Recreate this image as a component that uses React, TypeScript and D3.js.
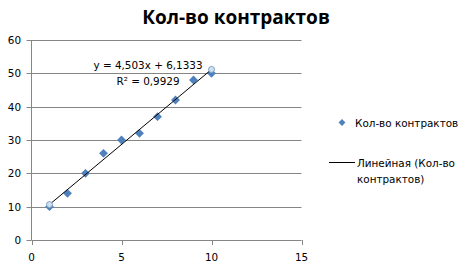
import React from "react";
import * as d3 from "d3";

const xValues = [1, 2, 3, 4, 5, 6, 7, 8, 9, 10];
const yValues = [10, 14, 20, 26, 30, 32, 37, 42, 48, 50];
const xTicks = [0, 5, 10, 15];
const yTicks = [0, 10, 20, 30, 40, 50, 60];
const title = "Кол-во контрактов";
const seriesName = "Кол-во контрактов";
const trendNameLines = ["Линейная (Кол-во", "контрактов)"];
const equation = "y = 4,503x + 6,1333";
const r2Text = "R² = 0,9929";

export default function App() {
  const W = 463, H = 264;
  const x = d3.scaleLinear().domain([0, 15]).range([31.5, 301.5]);
  const y = d3.scaleLinear().domain([0, 60]).range([240, 40]);
  const mx = d3.mean(xValues)!;
  const my = d3.mean(yValues)!;
  let sxy = 0, sxx = 0;
  xValues.forEach((xv, i) => { sxy += (xv - mx) * (yValues[i] - my); sxx += (xv - mx) ** 2; });
  const slope = sxy / sxx;
  const intercept = my - slope * mx;
  const x0 = d3.min(xValues)!, x1 = d3.max(xValues)!;
  const line = d3.line<number>().x(d => x(d)).y(d => y(slope * d + intercept));
  const font = "Tahoma, 'DejaVu Sans', sans-serif";
  const fs = 10.4;
  const diamond = d3.symbol().type(d3.symbolDiamond2).size(50)() as string;
  const legDiamond = d3.symbol().type(d3.symbolDiamond2).size(30)() as string;
  return (
    <svg width={W} height={H} style={{ position: "absolute", left: 0, top: 0, background: "#fff" }} fontFamily={font}>
      <rect width={W} height={H} fill="#fff" />
      <text x={236} y={24} textAnchor="middle" fontSize={19} fontWeight="bold" fontFamily="'Open Sans', 'Liberation Sans', sans-serif" fill="#000">{title}</text>
      {yTicks.map(t => (
        <g key={"y" + t}>
          {t > 0 && <line x1={x(0)} x2={x(15)} y1={Math.round(y(t)) + 0.5} y2={Math.round(y(t)) + 0.5} stroke="#868686" />}
          <line x1={x(0) - 5} x2={x(0)} y1={Math.round(y(t)) + 0.5} y2={Math.round(y(t)) + 0.5} stroke="#868686" />
          <text x={21} y={y(t) + 4} textAnchor="end" fontSize={fs}>{t}</text>
        </g>
      ))}
      <line x1={x(0)} x2={x(0)} y1={y(60)} y2={y(0)} stroke="#868686" />
      <line x1={x(0)} x2={x(15)} y1={240.5} y2={240.5} stroke="#868686" />
      {xTicks.map(t => (
        <g key={"x" + t}>
          <line x1={Math.round(x(t)) + 0.5} x2={Math.round(x(t)) + 0.5} y1={240} y2={245} stroke="#868686" />
          <text x={x(t)} y={261} textAnchor="middle" fontSize={fs}>{t}</text>
        </g>
      ))}
      {xValues.map((xv, i) => (
        <path key={i} d={diamond} transform={`translate(${x(xv)},${y(yValues[i])})`} fill="#4F81BD" />
      ))}
      <path d={line([x0, x1]) || ""} stroke="#000" strokeWidth={1} fill="none" />
      {[x0, x1].map((xv, i) => (
        <circle key={i} cx={x(xv)} cy={y(slope * xv + intercept)} r={3} fill="#cfe0f0" stroke="#7f9fbf" strokeWidth={1} />
      ))}
      <text x={148} y={69} textAnchor="middle" fontSize={fs}>{equation}</text>
      <text x={148} y={85} textAnchor="middle" fontSize={fs}>{r2Text}</text>
      <path d={legDiamond} transform="translate(342,122.5)" fill="#4F81BD" />
      <text x={355} y={126.5} fontSize={fs}>{seriesName}</text>
      <line x1={329} x2={355} y1={162.5} y2={162.5} stroke="#000" />
      {trendNameLines.map((s, i) => (
        <text key={i} x={357} y={166.5 + i * 16} fontSize={fs}>{s}</text>
      ))}
    </svg>
  );
}
